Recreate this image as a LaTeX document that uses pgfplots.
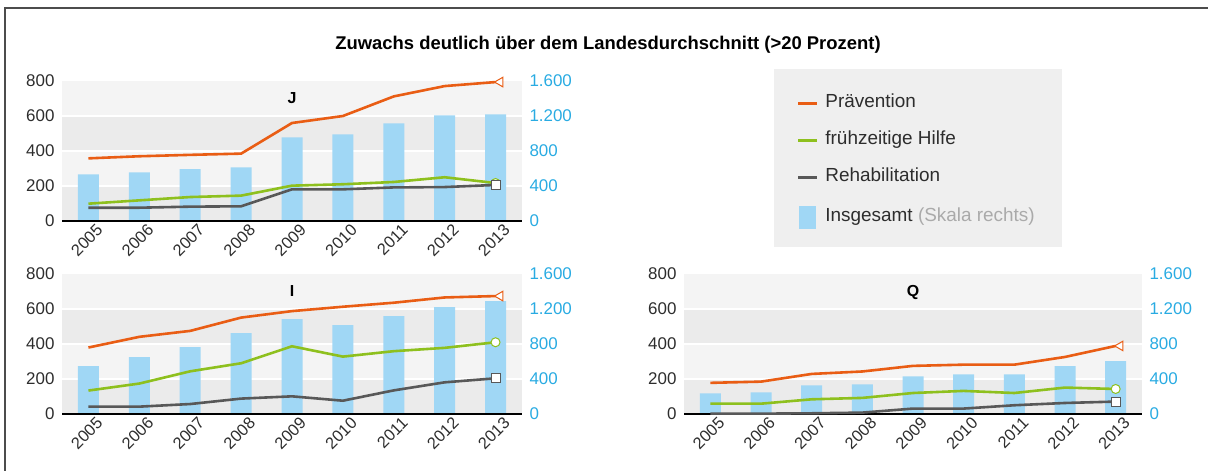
\documentclass[border=0pt]{standalone}
\usepackage{pgfplots}
\pgfplotsset{compat=1.18}
\usepackage{fontspec}
\setmainfont{Liberation Sans}
\definecolor{orangeC}{RGB}{233,93,20}
\definecolor{greenC}{RGB}{142,192,30}
\definecolor{grayC}{RGB}{88,88,88}
\definecolor{barblue}{RGB}{160,215,245}
\definecolor{banddark}{RGB}{235,235,235}
\definecolor{bandlight}{RGB}{244,244,244}
\definecolor{legendbg}{RGB}{239,239,239}
\definecolor{tickblue}{RGB}{41,171,226}
\definecolor{ticktext}{RGB}{45,45,45}
\definecolor{skala}{RGB}{170,170,170}

\pgfplotsset{
  base/.style={scale only axis, width=460bp, height=140bp,
    xmin=-0.52, xmax=8.52, ymin=0, clip=false,
    major tick length=0pt, tick style={draw=none},
    /pgf/number format/assume math mode=true,
    /pgf/number format/1000 sep={.}},
  baraxis/.style={base, ymax=1600,
    axis x line=none, axis y line*=right, y axis line style={draw=none},
    ytick={0,400,800,1200,1600},
    yticklabel style={text=tickblue, font=\fontsize{17}{19}\selectfont, xshift=4bp}},
  lineaxis/.style={base, ymax=800,
    axis x line*=bottom, axis y line*=left, y axis line style={draw=none},
    x axis line style={line width=1.6bp, black, -},
    xtick={0,...,8}, xticklabels={2005,2006,2007,2008,2009,2010,2011,2012,2013},
    x tick label style={rotate=45, anchor=north east, font=\fontsize{16.5}{18}\selectfont, text=ticktext, xshift=7bp, yshift=-3bp},
    ytick={0,200,400,600,800},
    yticklabel style={text=ticktext, font=\fontsize{17}{19}\selectfont, xshift=-4bp}},
}
\newcommand{\bands}{%
  \fill[banddark] (rel axis cs:0,0) rectangle (rel axis cs:1,0.25);
  \fill[bandlight] (rel axis cs:0,0.25) rectangle (rel axis cs:1,0.5);
  \fill[banddark] (rel axis cs:0,0.5) rectangle (rel axis cs:1,0.75);
  \fill[bandlight] (rel axis cs:0,0.75) rectangle (rel axis cs:1,1);
  \draw[white, line width=2.5bp] (rel axis cs:0,0.25) -- (rel axis cs:1,0.25);
  \draw[white, line width=2.5bp] (rel axis cs:0,0.5) -- (rel axis cs:1,0.5);
  \draw[white, line width=2.5bp] (rel axis cs:0,0.75) -- (rel axis cs:1,0.75);
}
\pgfplotsset{
  prav/.style={orangeC, line width=2.6bp, mark=triangle*, mark indices={9}, mark size=5.5bp,
    mark options={fill=white, draw=orangeC, line width=1bp, xshift=4.5bp, rotate=90}},
  fruh/.style={greenC, line width=2.6bp, mark=*, mark indices={9}, mark size=4.5bp,
    mark options={fill=white, draw=greenC, line width=1bp}},
  reha/.style={grayC, line width=2.6bp, mark=square*, mark indices={9}, mark size=4.5bp,
    mark options={fill=white, draw=grayC, line width=1bp}},
  bars/.style={ybar, bar width=21bp, fill=barblue, draw=none},
}

\begin{document}
\begin{tikzpicture}
\path[use as bounding box] (0,0) rectangle (1208bp,-471bp);
\draw[gray!60!black, line width=1.3bp] (5bp,-471bp) -- (5bp,-8bp) -- (1208bp,-8bp);
\node[font=\bfseries\fontsize{18.5}{21}\selectfont, text=black] at (608bp,-45bp) {Zuwachs deutlich über dem Landesdurchschnitt (>20 Prozent)};
\fill[legendbg] (774bp,-69bp) rectangle (1062bp,-247bp);

% ---------------- J ----------------
\begin{axis}[baraxis, at={(62bp,-221bp)}, anchor=south west]
\bands
\addplot[bars] coordinates {(0,533) (1,556) (2,594) (3,613) (4,956) (5,990) (6,1116) (7,1208) (8,1219)};
\end{axis}
\begin{axis}[lineaxis, at={(62bp,-221bp)}, anchor=south west,
  legend style={at={(axis description cs:1.597,0.9036)}, anchor=north west, draw=none, fill=none,
    inner sep=0pt, row sep=20bp, legend cell align=left,
    font=\fontsize{19}{21}\selectfont, text=ticktext,
    nodes={inner xsep=7bp, inner ysep=0pt, text height=13bp, text depth=4bp}},
  legend image code/.code={\draw[#1] (0bp,0bp) -- (19bp,0bp);}]
\addplot[prav, forget plot] coordinates {(0,358) (1,370) (2,378) (3,385) (4,560) (5,600) (6,712) (7,771) (8,794)};
\addplot[fruh, forget plot] coordinates {(0,99) (1,118) (2,137) (3,145) (4,202) (5,210) (6,223) (7,250) (8,217)};
\addplot[reha, forget plot] coordinates {(0,76) (1,76) (2,82) (3,84) (4,181) (5,181) (6,192) (7,194) (8,206)};
\addlegendimage{orangeC, line width=2.6bp}
\addlegendentry{Prävention}
\addlegendimage{greenC, line width=2.6bp}
\addlegendentry{frühzeitige Hilfe}
\addlegendimage{grayC, line width=2.6bp}
\addlegendentry{Rehabilitation}
\addlegendimage{legend image code/.code={\fill[barblue] (1bp,-11bp) rectangle (17bp,11bp);}}
\addlegendentry{Insgesamt {\color{skala}(Skala rechts)}}
\node[font=\bfseries\fontsize{16}{18}\selectfont, anchor=north] at (rel axis cs:0.5,1) [yshift=-8bp] {J};
\end{axis}

% ---------------- I ----------------
\begin{axis}[baraxis, at={(62bp,-414bp)}, anchor=south west]
\bands
\addplot[bars] coordinates {(0,546) (1,649) (2,763) (3,924) (4,1084) (5,1015) (6,1118) (7,1221) (8,1290)};
\end{axis}
\begin{axis}[lineaxis, at={(62bp,-414bp)}, anchor=south west]
\addplot[prav] coordinates {(0,380) (1,441) (2,475) (3,551) (4,588) (5,613) (6,636) (7,666) (8,674)};
\addplot[fruh] coordinates {(0,134) (1,174) (2,244) (3,290) (4,387) (5,328) (6,359) (7,378) (8,410)};
\addplot[reha] coordinates {(0,42) (1,42) (2,57) (3,88) (4,101) (5,76) (6,135) (7,181) (8,204)};
\node[font=\bfseries\fontsize{16}{18}\selectfont, anchor=north] at (rel axis cs:0.5,1) [yshift=-8bp] {I};
\end{axis}

% ---------------- Q ----------------
\begin{axis}[baraxis, width=458bp, at={(684bp,-414bp)}, anchor=south west]
\bands
\addplot[bars] coordinates {(0,237) (1,248) (2,328) (3,340) (4,431) (5,454) (6,454) (7,546) (8,603)};
\end{axis}
\begin{axis}[lineaxis, width=458bp, at={(684bp,-414bp)}, anchor=south west]
\addplot[prav] coordinates {(0,178) (1,185) (2,229) (3,243) (4,275) (5,282) (6,282) (7,326) (8,389)};
\addplot[fruh] coordinates {(0,59) (1,59) (2,84) (3,92) (4,120) (5,132) (6,120) (7,151) (8,143)};
\addplot[reha] coordinates {(0,2) (1,2) (2,4) (3,8) (4,31) (5,31) (6,50) (7,63) (8,71)};
\node[font=\bfseries\fontsize{16}{18}\selectfont, anchor=north] at (rel axis cs:0.5,1) [yshift=-8bp] {Q};
\end{axis}
\end{tikzpicture}
\end{document}
